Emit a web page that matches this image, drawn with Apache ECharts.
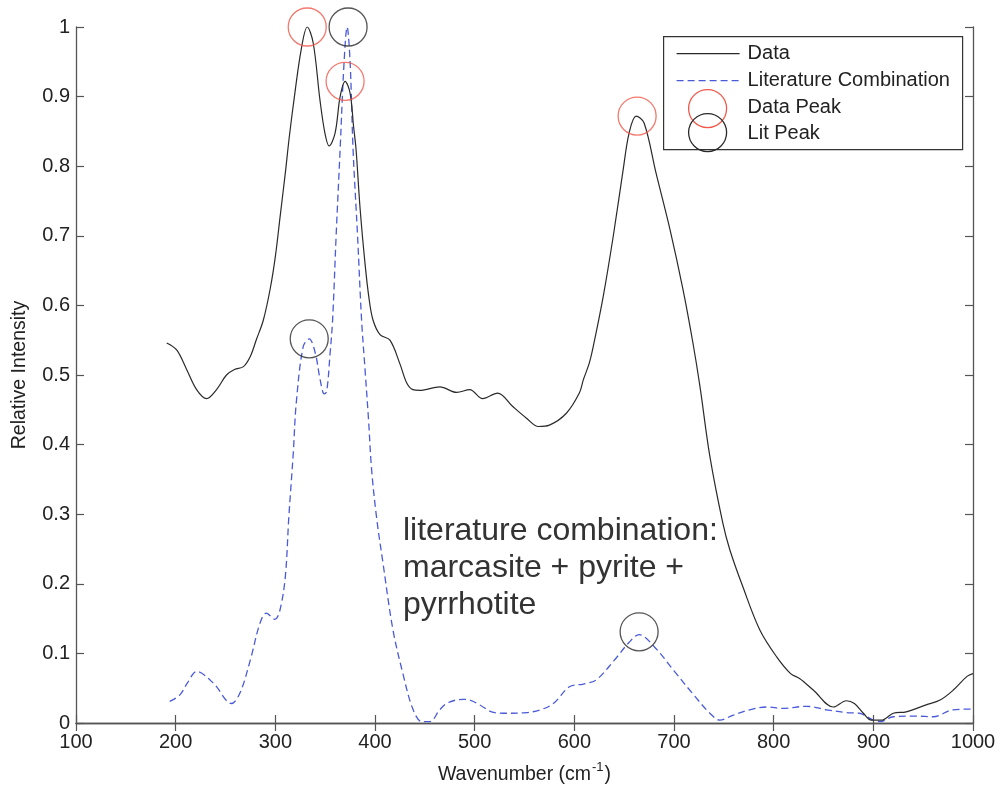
<!DOCTYPE html>
<html>
<head>
<meta charset="utf-8">
<title>Raman spectrum vs literature combination</title>
<script src="https://cdn.jsdelivr.net/npm/echarts@6/dist/echarts.min.js"></script>
<style>
  html, body { margin: 0; padding: 0; background: #ffffff; }
  #chart { width: 1000px; height: 786px; }
</style>
</head>
<body>
<div id="chart"></div>
<script>
// Measured spectrum (normalised)
const dataX = [191, 201, 211, 221, 231, 241, 251, 259, 268, 275, 281, 288, 295, 300, 305, 310, 314, 319.6, 326, 332,
  338, 344.7, 349.7, 354, 360, 365, 370, 375, 378.5, 381, 385, 390, 394, 398, 405, 415, 425, 432, 438, 445,
  465, 482, 495, 508, 523, 538, 552, 564, 575, 592, 605, 609, 615, 619, 629, 639, 649, 655, 662, 670,
  682, 696, 709, 719, 726, 736, 749, 756, 769, 786, 803, 817, 826, 840, 860, 873, 881, 890, 898, 908,
  920, 933, 953, 967, 980, 994, 1000];
const dataY = [0.546, 0.536, 0.508, 0.479, 0.466, 0.479, 0.500, 0.508, 0.512, 0.527, 0.551, 0.579, 0.625, 0.67, 0.73, 0.79, 0.842, 0.905, 0.968, 1.0,
  0.977, 0.896, 0.848, 0.829, 0.848, 0.90, 0.922, 0.905, 0.857, 0.824, 0.74, 0.66, 0.61, 0.579, 0.558, 0.550, 0.516, 0.488, 0.479, 0.478,
  0.483, 0.475, 0.479, 0.466, 0.474, 0.455, 0.438, 0.426, 0.428, 0.445, 0.474, 0.493, 0.517, 0.541, 0.613, 0.699, 0.795, 0.848, 0.872, 0.862,
  0.79, 0.709, 0.623, 0.546, 0.484, 0.383, 0.287, 0.249, 0.196, 0.134, 0.095, 0.071, 0.064, 0.047, 0.023, 0.032, 0.028, 0.014, 0.004, 0.004,
  0.014, 0.016, 0.026, 0.033, 0.047, 0.067, 0.071];

// Sum of marcasite + pyrite + pyrrhotite reference spectra
const litX = [194, 204, 212, 221, 238, 256, 264.5, 275, 284.5, 291, 299.6, 304.6, 310, 313.5, 318, 321, 328, 334, 340, 345,
  349, 351.5, 355, 357.5, 361, 365, 369, 372, 375, 378, 382.5, 386.5, 390, 393.5, 396.6, 401.6, 408, 418, 428, 438,
  447, 455, 465, 473, 488, 495, 505, 517, 529, 552, 566, 579, 595, 609, 622, 640, 655, 665, 680, 700,
  720, 736, 746, 759, 776, 793, 809, 833, 853, 873, 886, 900, 907, 920, 940, 960, 980, 1000];
const litY = [0.031, 0.040, 0.058, 0.074, 0.057, 0.028, 0.043, 0.091, 0.143, 0.158, 0.149, 0.162, 0.21, 0.295, 0.388, 0.46, 0.541, 0.552, 0.532, 0.493,
  0.473, 0.476, 0.532, 0.58, 0.70, 0.824, 0.95, 1.0, 0.95, 0.824, 0.70, 0.58, 0.508, 0.436, 0.364, 0.295, 0.23, 0.134, 0.071, 0.020,
  0.002, 0.002, 0.019, 0.029, 0.034, 0.033, 0.026, 0.016, 0.014, 0.015, 0.019, 0.028, 0.052, 0.056, 0.062, 0.09, 0.116, 0.127, 0.11, 0.075,
  0.04, 0.014, 0.004, 0.011, 0.019, 0.023, 0.021, 0.024, 0.019, 0.015, 0.014, 0.004, 0.002, 0.009, 0.010, 0.009, 0.019, 0.02];

// Picked peaks
const dataPeakX = [332, 370, 663];
const dataPeakY = [1.0, 0.922, 0.872];
const litPeakX = [373, 334, 665];
const litPeakY = [1.0, 0.552, 0.131];

// Axis ticks
const xTicks = [100, 200, 300, 400, 500, 600, 700, 800, 900, 1000];
const yTicks = [0, 0.1, 0.2, 0.3, 0.4, 0.5, 0.6, 0.7, 0.8, 0.9, 1];

const legendNames = ['Data', 'Literature Combination', 'Data Peak', 'Lit Peak'];
const noteLines = ['literature combination:', 'marcasite + pyrite +', 'pyrrhotite'];

const zip = (xs, ys) => xs.map((x, i) => [x, ys[i]]);

const FONT = '"Liberation Sans", Arial, Helvetica, sans-serif';
const AXIS_COLOR = '#555';
const TEXT_COLOR = '#222';
const BLUE = '#4a5ad8';
const RED = '#f0584a';
const BLACK = '#2a2a2a';

const xMin = xTicks[0], xMax = xTicks[xTicks.length - 1];
const xStep = xTicks[1] - xTicks[0];
const yMin = yTicks[0], yMax = yTicks[yTicks.length - 1];
const yStep = 0.1;

const baseAxisLine = { show: true, lineStyle: { color: AXIS_COLOR, width: 1.3 } };
const innerTick = { show: true, inside: true, length: 8, lineStyle: { color: AXIS_COLOR, width: 1.2 } };

const chart = echarts.init(document.getElementById('chart'), null, { renderer: 'canvas' });

const option = {
  backgroundColor: '#ffffff',
  animation: false,
  textStyle: { fontFamily: FONT },
  grid: { left: 76, right: 27, top: 27, bottom: 63, containLabel: false, outerBoundsMode: 'none' },
  xAxis: [
    {
      type: 'value', min: xMin, max: xMax, interval: xStep, position: 'bottom',
      axisLine: baseAxisLine, axisTick: innerTick, splitLine: { show: false },
      axisLabel: { color: TEXT_COLOR, fontSize: 20, margin: 9, fontFamily: FONT, formatter: v => String(v) },
      name: '{a|Wavenumber (cm}{s|-1}{a|)}',
      nameLocation: 'middle', nameGap: 38,
      nameTextStyle: {
        rich: {
          a: { fontSize: 19.5, color: TEXT_COLOR, fontFamily: FONT, lineHeight: 24, verticalAlign: 'bottom' },
          s: { fontSize: 13, color: TEXT_COLOR, fontFamily: FONT, lineHeight: 24, verticalAlign: 'top', padding: [0, 1, 0, 1] }
        }
      }
    },
    {
      type: 'value', min: xMin, max: xMax, interval: xStep, position: 'top',
      axisLine: baseAxisLine, axisTick: innerTick, axisLabel: { show: false }, splitLine: { show: false }
    }
  ],
  yAxis: [
    {
      type: 'value', min: yMin, max: yMax, interval: yStep, position: 'left',
      axisLine: baseAxisLine, axisTick: innerTick, splitLine: { show: false },
      axisLabel: {
        color: TEXT_COLOR, fontSize: 20, margin: 6, fontFamily: FONT,
        formatter: v => String(Math.round(v * 10) / 10)
      },
      name: 'Relative Intensity', nameLocation: 'middle', nameGap: 46,
      nameTextStyle: { fontSize: 19.5, color: TEXT_COLOR, fontFamily: FONT }
    },
    {
      type: 'value', min: yMin, max: yMax, interval: yStep, position: 'right',
      axisLine: baseAxisLine, axisTick: innerTick, axisLabel: { show: false }, splitLine: { show: false }
    }
  ],
  series: [
    {
      name: legendNames[0], type: 'line', data: zip(dataX, dataY),
      smooth: 0.35, showSymbol: false, symbol: 'none', clip: true,
      lineStyle: { color: BLACK, width: 1.2 }, z: 3
    },
    {
      name: legendNames[1], type: 'line', data: zip(litX, litY),
      smooth: 0.35, showSymbol: false, symbol: 'none', clip: true,
      lineStyle: { color: BLUE, width: 1.3, type: [7, 4] }, z: 2
    },
    {
      name: legendNames[2], type: 'scatter', data: zip(dataPeakX, dataPeakY),
      symbol: 'circle', symbolSize: 38, clip: false,
      itemStyle: { color: 'rgba(0,0,0,0)', borderColor: RED, borderWidth: 1.3 }, z: 4
    },
    {
      name: legendNames[3], type: 'scatter', data: zip(litPeakX, litPeakY),
      symbol: 'circle', symbolSize: 38, clip: false,
      itemStyle: { color: 'rgba(0,0,0,0)', borderColor: BLACK, borderWidth: 1.3 }, z: 4
    }
  ],
  graphic: [
    // legend box
    {
      type: 'group', left: 663, top: 36, z: 100,
      children: [
        { type: 'rect', shape: { x: 0, y: 0, width: 299, height: 113 },
          style: { fill: '#ffffff', stroke: '#333', lineWidth: 1.2 } },
        { type: 'line', shape: { x1: 13, y1: 17, x2: 76, y2: 17 },
          style: { stroke: BLACK, lineWidth: 1.2 } },
        { type: 'line', shape: { x1: 13, y1: 44, x2: 76, y2: 44 },
          style: { stroke: BLUE, lineWidth: 1.3, lineDash: [7, 4] } },
        { type: 'circle', shape: { cx: 44, cy: 72, r: 19 },
          style: { fill: 'none', stroke: RED, lineWidth: 1.3 } },
        { type: 'circle', shape: { cx: 44, cy: 96, r: 19 },
          style: { fill: 'none', stroke: BLACK, lineWidth: 1.3 } },
        { type: 'text', x: 84, y: 17, style: { text: legendNames[0], fill: TEXT_COLOR, font: '20px ' + FONT, verticalAlign: 'middle' } },
        { type: 'text', x: 84, y: 44, style: { text: legendNames[1], fill: TEXT_COLOR, font: '20px ' + FONT, verticalAlign: 'middle' } },
        { type: 'text', x: 84, y: 71, style: { text: legendNames[2], fill: TEXT_COLOR, font: '20px ' + FONT, verticalAlign: 'middle' } },
        { type: 'text', x: 84, y: 97, style: { text: legendNames[3], fill: TEXT_COLOR, font: '20px ' + FONT, verticalAlign: 'middle' } }
      ]
    },
    // annotation
    {
      type: 'text', left: 403, top: 513, z: 90,
      style: { text: noteLines.join('\n'), fill: '#333', font: '32px ' + FONT, lineHeight: 37 }
    }
  ]
};

chart.setOption(option);
</script>
</body>
</html>
